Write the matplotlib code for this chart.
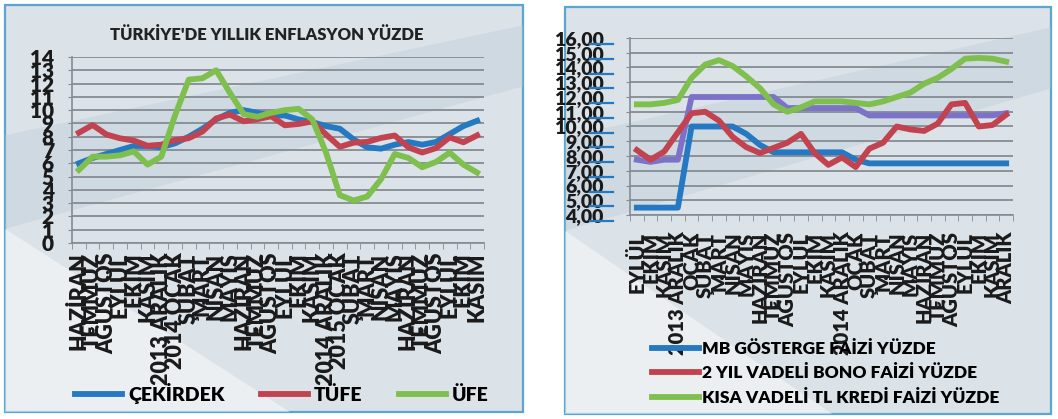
import matplotlib
matplotlib.use("Agg")
import matplotlib.pyplot as plt
from matplotlib.patches import Rectangle, Polygon
from matplotlib.ticker import FixedLocator, MultipleLocator

plt.rcParams['font.family'] = ['Lato', 'DejaVu Sans']
plt.rcParams['font.weight'] = 'heavy'

# inflation panel: June 2013 .. November 2015
enf_aylar = ["HAZİRAN", "TEMMUZ", "AĞUSTOS", "EYLÜL", "EKİM", "KASIM",
             "2013 ARALIK", "2014 OCAK", "ŞUBAT", "MART", "NİSAN", "MAYIS",
             "HAZİRAN", "TEMMUZ", "AĞUSTOS", "EYLÜL", "EKİM", "KASIM",
             "2014 ARALIK", "2015 OCAK", "ŞUBAT", "MART", "NİSAN", "MAYIS",
             "HAZİRAN", "TEMMUZ", "AĞUSTOS", "EYLÜL", "EKİM", "KASIM"]
cekirdek = [6.0, 6.4, 6.7, 7.0, 7.3, 7.3, 7.2, 7.5, 8.0, 8.6,
            9.3, 9.8, 10.0, 9.8, 9.6, 9.6, 9.3, 9.1, 8.8, 8.6,
            7.8, 7.2, 7.1, 7.4, 7.6, 7.4, 7.6, 8.2, 8.8, 9.2]
tufe = [8.30, 8.88, 8.17, 7.88, 7.71, 7.32, 7.40, 7.75, 7.89, 8.39,
        9.38, 9.66, 9.16, 9.32, 9.54, 8.86, 8.96, 9.15, 8.17, 7.24,
        7.55, 7.61, 7.91, 8.09, 7.20, 6.81, 7.14, 7.95, 7.58, 8.10]
ufe = [5.5, 6.5, 6.5, 6.6, 6.9, 5.9, 6.5, 9.6, 12.3, 12.4,
       13.0, 11.3, 9.7, 9.5, 9.8, 10.0, 10.1, 9.3, 6.8, 3.6,
       3.2, 3.5, 4.8, 6.7, 6.4, 5.7, 6.1, 6.8, 5.9, 5.3]

# interest rate panel: September 2013 .. December 2015
faiz_aylar = ["EYLÜL", "EKİM", "KASIM", "2013 ARALIK", "OCAK", "ŞUBAT",
              "MART", "NİSAN", "MAYIS", "HAZİRAN", "TEMMUZ", "AĞUSTOS",
              "EYLÜL", "EKİM", "KASIM", "2014 ARALIK", "OCAK", "ŞUBAT",
              "MART", "NİSAN", "MAYIS", "HAZİRAN", "TEMMUZ", "AĞUSTOS",
              "EYLÜL", "EKİM", "KASIM", "ARALIK"]
mb_faiz = [4.5, 4.5, 4.5, 4.5, 10.0, 10.0, 10.0, 10.0, 9.5, 8.75,
           8.25, 8.25, 8.25, 8.25, 8.25, 8.25, 7.75, 7.5, 7.5, 7.5,
           7.5, 7.5, 7.5, 7.5, 7.5, 7.5, 7.5, 7.5]
bono_faiz = [8.4, 7.75, 8.3, 9.6, 10.9, 11.0, 10.4, 9.3, 8.6, 8.2,
             8.55, 8.9, 9.5, 8.2, 7.4, 7.9, 7.25, 8.5, 8.9, 10.0,
             9.8, 9.7, 10.2, 11.5, 11.6, 10.0, 10.1, 10.8]
kredi_faiz = [11.5, 11.5, 11.6, 11.8, 13.3, 14.2, 14.5, 14.1, 13.4, 12.6,
              11.5, 11.0, 11.3, 11.7, 11.7, 11.7, 11.6, 11.5, 11.7, 12.0,
              12.3, 12.9, 13.3, 13.9, 14.6, 14.65, 14.6, 14.4]
gecelik_faiz = [7.75, 7.6, 7.75, 7.75, 12.0, 12.0, 12.0, 12.0, 12.0, 12.0,
                12.0, 11.25, 11.25, 11.25, 11.25, 11.25, 11.25, 10.75, 10.75, 10.75,
                10.75, 10.75, 10.75, 10.75, 10.75, 10.75, 10.75, 10.9]

MAVI = "#2479c2"
KIRMIZI = "#c2424f"
YESIL = "#7fbf4d"
MOR = "#7c72c8"
GRID = "#858b92"
LW = 4.2


def panel(fig, x0, y0, x1, y1):
    # pixel box -> figure fraction, light backdrop with a diagonal sheen
    W, H = 1058.0, 419.0
    fig.add_artist(Rectangle((x0 / W, 1 - y1 / H), (x1 - x0) / W, (y1 - y0) / H,
                             transform=fig.transFigure, facecolor="#dbe2e8",
                             edgecolor="#5aa6cf", linewidth=1.6, zorder=0))
    sheen = [(x0, y1), (x0, y1 - 0.45 * (y1 - y0)),
             (x0 + 0.55 * (x1 - x0), y1)]
    fig.add_artist(Polygon([(px / W, 1 - py / H) for px, py in sheen],
                           closed=True, transform=fig.transFigure,
                           facecolor="white", alpha=0.45, edgecolor="none", zorder=0))
    band = [(x0, y0 + 0.32 * (y1 - y0)), (x1, y0 + 0.05 * (y1 - y0)),
            (x1, y0 + 0.2 * (y1 - y0)), (x0, y0 + 0.55 * (y1 - y0))]
    fig.add_artist(Polygon([(px / W, 1 - py / H) for px, py in band],
                           closed=True, transform=fig.transFigure,
                           facecolor="#b9cbd9", alpha=0.35, edgecolor="none", zorder=0))


def style_axes(ax, labels, pad_x, xfs):
    ax.set_facecolor("none")
    ax.set_xlim(-0.5, len(labels) - 0.5)
    ax.set_xticks(range(len(labels)))
    ax.set_xticklabels(labels, rotation=90, fontsize=xfs, fontweight="heavy",
                       va="top", ha="center", color="#1a1a1a")
    ax.xaxis.set_minor_locator(FixedLocator([i - 0.5 for i in range(len(labels) + 1)]))
    ax.tick_params(axis="x", which="major", length=0, pad=pad_x)
    ax.tick_params(axis="x", which="minor", length=4, color=GRID, direction="out")
    ax.tick_params(axis="y", length=3, color=GRID, labelcolor="#1a1a1a")
    ax.grid(axis="y", color=GRID, linewidth=1.3)
    for s in ["top", "right"]:
        ax.spines[s].set_visible(False)
    for s in ["left", "bottom"]:
        ax.spines[s].set_color(GRID)
        ax.spines[s].set_linewidth(1.2)
    ax.set_axisbelow(True)


fig = plt.figure(figsize=(10.58, 4.19), dpi=100)
panel(fig, 5, 5, 523, 412)
panel(fig, 565, 7, 1051, 414)

# --- inflation
ax1 = fig.add_axes([72 / 1058, 1 - 243 / 419, 412 / 1058, 186 / 419])
style_axes(ax1, enf_aylar, 7, 15.5)
ax1.set_ylim(0, 14)
ax1.yaxis.set_major_locator(MultipleLocator(1))
ax1.tick_params(axis="y", labelsize=15, pad=10)
for t in ax1.get_yticklabels():
    t.set_fontweight("heavy")
x1 = range(len(enf_aylar))
l1, = ax1.plot(x1, cekirdek, color=MAVI, lw=LW, label="ÇEKİRDEK")
l2, = ax1.plot(x1, tufe, color=KIRMIZI, lw=LW, label="TÜFE")
l3, = ax1.plot(x1, ufe, color=YESIL, lw=LW, label="ÜFE")
fig.text(267 / 1058, 1 - 35 / 419, "TÜRKİYE'DE YILLIK ENFLASYON YÜZDE",
         ha="center", va="center", fontsize=12, fontweight="heavy", color="#222222")
fig.legend(handles=[l1, l2, l3], loc="center", ncol=3,
           bbox_to_anchor=(282 / 1058, 1 - 393 / 419), frameon=False,
           prop={"size": 14, "weight": "heavy"}, handlelength=2.4,
           handletextpad=0.3, columnspacing=1.9)

# --- interest rates
ax2 = fig.add_axes([630 / 1058, 1 - 215 / 419, 383 / 1058, 177 / 419])
style_axes(ax2, faiz_aylar, 12, 14.5)
ax2.set_ylim(4, 16)
ax2.yaxis.set_major_locator(MultipleLocator(1))
ax2.yaxis.set_major_formatter(lambda v, p: f"{v:.2f}".replace(".", ","))
ax2.tick_params(axis="y", labelsize=14, pad=16)
for t in ax2.get_yticklabels():
    t.set_fontweight("heavy")
# blue strokes printed under the value labels
for v in range(4, 17):
    ax2.plot([-0.105, -0.045], [v - 0.42, v - 0.42], transform=ax2.get_yaxis_transform(),
             color=MAVI, lw=1.6, clip_on=False)
x2 = range(len(faiz_aylar))
m1, = ax2.plot(x2, mb_faiz, color=MAVI, lw=LW, label="MB GÖSTERGE FAİZİ YÜZDE")
m2, = ax2.plot(x2, bono_faiz, color=KIRMIZI, lw=LW, label="2 YIL VADELİ BONO FAİZİ YÜZDE")
m3, = ax2.plot(x2, kredi_faiz, color=YESIL, lw=LW, label="KISA VADELİ TL KREDİ FAİZİ YÜZDE")
ax2.plot(x2, gecelik_faiz, color=MOR, lw=LW, zorder=1.9)
fig.legend(handles=[m1, m2, m3], loc="upper left",
           bbox_to_anchor=(636 / 1058, 1 - 325 / 419), frameon=False,
           prop={"size": 12.5, "weight": "heavy"}, handlelength=2.7,
           handletextpad=0.2, labelspacing=0.5)

fig.savefig("out.png", dpi=100)
